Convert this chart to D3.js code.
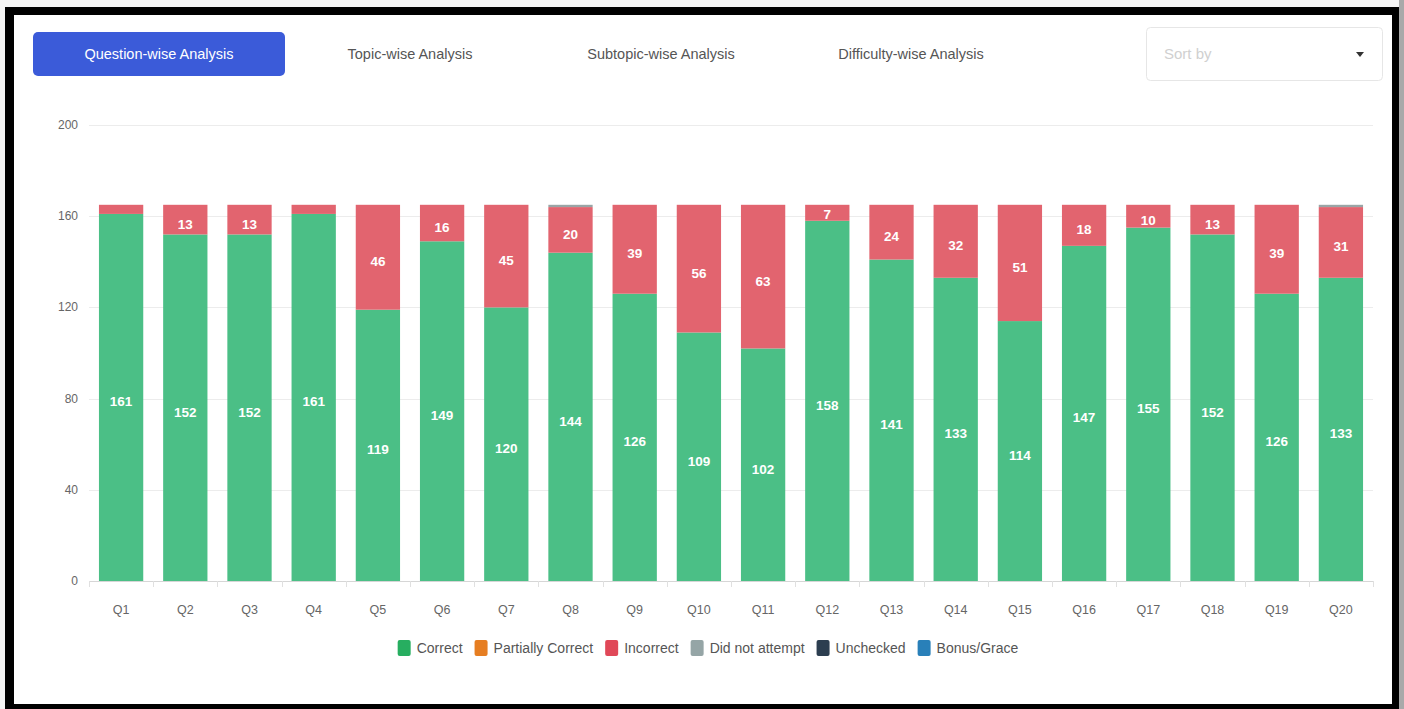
<!DOCTYPE html>
<html>
<head>
<meta charset="utf-8">
<script src="https://cdn.jsdelivr.net/npm/d3@7"></script>
<style>
  html, body { margin: 0; padding: 0; background: #f4f4f4; overflow: hidden; }
  svg { display: block; font-family: "Liberation Sans", Arial, sans-serif; }
</style>
</head>
<body>
<svg id="chart" width="1404" height="709"></svg>
<script>
// ---- data ----
var questions = ["Q1","Q2","Q3","Q4","Q5","Q6","Q7","Q8","Q9","Q10",
                 "Q11","Q12","Q13","Q14","Q15","Q16","Q17","Q18","Q19","Q20"];
var correct      = [161,152,152,161,119,149,120,144,126,109,102,158,141,133,114,147,155,152,126,133];
var partial      = [0,0,0,0,0,0,0,0,0,0,0,0,0,0,0,0,0,0,0,0];
var incorrect    = [4,13,13,4,46,16,45,20,39,56,63,7,24,32,51,18,10,13,39,31];
var notAttempted = [0,0,0,0,0,0,0,1,0,0,0,0,0,0,0,0,0,0,0,1];
var unchecked    = [0,0,0,0,0,0,0,0,0,0,0,0,0,0,0,0,0,0,0,0];
var bonus        = [0,0,0,0,0,0,0,0,0,0,0,0,0,0,0,0,0,0,0,0];

var seriesNames  = ["Correct","Partially Correct","Incorrect","Did not attempt","Unchecked","Bonus/Grace"];
var yTicks = [0,40,80,120,160,200];
var tabs = ["Question-wise Analysis","Topic-wise Analysis","Subtopic-wise Analysis","Difficulty-wise Analysis"];

var barColors    = ["#4bbf86","#ef8a2e","#e2646f","#9aa5a6","#34495e","#2d86c9"];
var legendColors = ["#27ae60","#e67e22","#e04858","#95a5a6","#2c3e50","#2980b9"];

var svg = d3.select("#chart");

// frame
svg.append("rect").attr("x", 5).attr("y", 7).attr("width", 1394).attr("height", 702).attr("fill", "#000");
svg.append("rect").attr("x", 1399).attr("y", 0).attr("width", 5).attr("height", 709).attr("fill", "#a9a9a9");
svg.append("rect").attr("x", 14).attr("y", 15).attr("width", 1378).attr("height", 689).attr("fill", "#fff");

// tabs
var tabCenters = [159, 410, 661, 911];
svg.append("rect")
   .attr("x", 33).attr("y", 32).attr("width", 252).attr("height", 44)
   .attr("rx", 5).attr("fill", "#3b5bd9");
svg.selectAll(".tab")
   .data(tabs)
   .enter()
   .append("text")
   .attr("class", "tab")
   .attr("x", function(d, i){ return tabCenters[i]; })
   .attr("y", 59)
   .attr("text-anchor", "middle")
   .style("font-size", "14.5px")
   .style("fill", function(d, i){ return i == 0 ? "#fff" : "#555"; })
   .text(function(d){ return d; });

// sort by box
svg.append("rect")
   .attr("x", 1146.5).attr("y", 27.5).attr("width", 236).attr("height", 53)
   .attr("rx", 4).attr("fill", "#fff").attr("stroke", "#e6e6e6");
svg.append("text").attr("x", 1164).attr("y", 59)
   .style("font-size", "15px").style("fill", "#d0d0d0").text("Sort by");
svg.append("path").attr("d", "M1356,52 L1364,52 L1360,57 Z").attr("fill", "#333");

// scales
var x = d3.scaleBand().domain(questions).range([89, 1373]).paddingInner(0.31).paddingOuter(0.155);
var y = d3.scaleLinear().domain([0, 200]).range([581, 125]);

// grid
svg.append("g").selectAll("line")
   .data(yTicks)
   .enter()
   .append("line")
   .attr("x1", 89).attr("x2", 1373)
   .attr("y1", function(d){ return Math.round(y(d)) + 0.5; })
   .attr("y2", function(d){ return Math.round(y(d)) + 0.5; })
   .style("stroke", function(d){ return d == 0 ? "#d6d6d6" : "#ececec"; });

svg.append("g").selectAll("text")
   .data(yTicks)
   .enter()
   .append("text")
   .attr("x", 78).attr("y", function(d){ return y(d) + 4; })
   .attr("text-anchor", "end")
   .style("font-size", "12px").style("fill", "#666")
   .text(function(d){ return d; });

// small tick marks under the x axis, between categories
var step = x.step();
svg.append("g").selectAll("line")
   .data(d3.range(questions.length + 1))
   .enter()
   .append("line")
   .attr("x1", function(i){ return Math.round(89 + i * step) + 0.5; })
   .attr("x2", function(i){ return Math.round(89 + i * step) + 0.5; })
   .attr("y1", 581).attr("y2", 587)
   .style("stroke", "#e0e0e0");

svg.append("g").selectAll("text")
   .data(questions)
   .enter()
   .append("text")
   .attr("x", function(d){ return x(d) + x.bandwidth() / 2; })
   .attr("y", 614)
   .attr("text-anchor", "middle")
   .style("font-size", "12.5px").style("fill", "#666")
   .text(function(d){ return d; });

// stacked bars
var rows = questions.map(function(q, i){
	return { q: q, s0: correct[i], s1: partial[i], s2: incorrect[i], s3: notAttempted[i], s4: unchecked[i], s5: bonus[i] };
});
var keys = ["s0","s1","s2","s3","s4","s5"];
var stacked = d3.stack().keys(keys)(rows);

var layers = svg.append("g").selectAll("g")
   .data(stacked)
   .enter()
   .append("g")
   .attr("fill", function(d, i){ return barColors[i]; });

layers.selectAll("rect")
   .data(function(d){ return d; })
   .enter()
   .append("rect")
   .attr("x", function(d){ return x(d.data.q); })
   .attr("width", x.bandwidth())
   .attr("y", function(d){ return y(d[1]); })
   .attr("height", function(d){ return y(d[0]) - y(d[1]); });

// value labels (only when the piece is big enough)
layers.selectAll("text")
   .data(function(d){ return d.filter(function(p){ return p[1] - p[0] >= 5; }); })
   .enter()
   .append("text")
   .attr("x", function(d){ return x(d.data.q) + x.bandwidth() / 2; })
   .attr("y", function(d){ return Math.min(y((d[0] + d[1]) / 2) + 9, y(d[0]) - 2); })
   .attr("text-anchor", "middle")
   .style("font-size", "13.5px").style("font-weight", "bold").style("fill", "#fff")
   .text(function(d){ return d[1] - d[0]; });

// legend
var legend = svg.append("g");
var lx = 0;
seriesNames.forEach(function(name, i){
	var g = legend.append("g").attr("transform", "translate(" + lx + ",0)");
	g.append("rect").attr("x", 0).attr("y", -8).attr("width", 13).attr("height", 16)
	 .attr("rx", 2).attr("fill", legendColors[i]);
	var t = g.append("text").attr("x", 19).attr("y", 5)
	 .style("font-size", "14px").style("fill", "#555").text(name);
	lx += 19 + t.node().getComputedTextLength() + 12;
});
legend.attr("transform", "translate(" + (708 - (lx - 12) / 2) + ",648)");
</script>
</body>
</html>
